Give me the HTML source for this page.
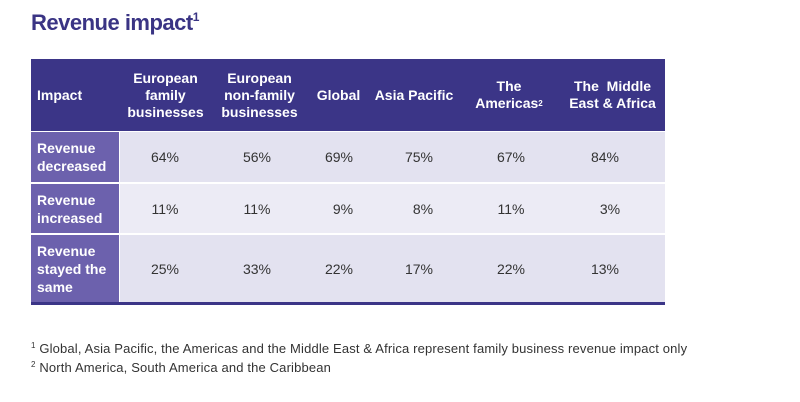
<!DOCTYPE html>
<html><head><meta charset="utf-8"><style>
*{margin:0;padding:0;box-sizing:border-box}
body{width:800px;height:402px;background:#fff;position:relative;overflow:hidden;font-family:"Liberation Sans",sans-serif}
.t{position:absolute;left:31px;top:10px;font-size:22px;font-weight:bold;color:#3a3484;letter-spacing:-0.5px}
.t sup{font-size:12px;vertical-align:top;position:relative;top:0px}
.c{position:absolute;display:flex;align-items:center;justify-content:center;text-align:center}
.h{background:#3b3587;color:#fff;font-weight:bold;font-size:14px;line-height:17px}
.r{background:#6c61ad;color:#fff;font-weight:bold;font-size:14px;line-height:18px;justify-content:flex-start;text-align:left;padding-left:6px}
.d{color:#333;font-size:14px}
.a{background:#e3e2f0}.b{background:#ecebf5}
.fn{position:absolute;left:31px;font-size:13px;color:#333;letter-spacing:0.15px}
.fn sup{font-size:8px;vertical-align:top}
</style></head><body>
<div class="t">Revenue impact<sup>1</sup></div>
<div class="c h" style="left:31px;top:59px;width:634px;height:72px"></div>
<div class="c h" style="left:31px;top:59px;width:88px;height:72px;justify-content:flex-start;padding-left:6px">Impact</div>
<div class="c h" style="left:119px;top:59px;width:93px;height:72px">European<br>family<br>businesses</div>
<div class="c h" style="left:212px;top:59px;width:95px;height:72px">European<br>non-family<br>businesses</div>
<div class="c h" style="left:307px;top:59px;width:63px;height:72px">Global</div>
<div class="c h" style="left:370px;top:59px;width:88px;height:72px">Asia Pacific</div>
<div class="c h" style="left:458px;top:59px;width:102px;height:72px"><span>The<br>Americas<sup style="font-size:8px;vertical-align:top">2</sup></span></div>
<div class="c h" style="left:560px;top:59px;width:105px;height:72px"><span>The&nbsp; Middle<br>East &amp; Africa</span></div>

<div class="c r" style="left:31px;top:132px;width:88px;height:50px">Revenue<br>decreased</div>
<div class="c d a" style="left:120px;top:132px;width:545px;height:50px"></div>
<div class="c r" style="left:31px;top:184px;width:88px;height:49px">Revenue<br>increased</div>
<div class="c d b" style="left:120px;top:184px;width:545px;height:49px"></div>
<div class="c r" style="left:31px;top:235px;width:88px;height:68px">Revenue<br>stayed the<br>same</div>
<div class="c d a" style="left:120px;top:235px;width:545px;height:68px"></div>
<div style="position:absolute;left:31px;top:302px;width:634px;height:3px;background:#3b3587"></div>

<div class="c d" style="left:135px;top:132px;width:60px;height:50px">64%</div>
<div class="c d" style="left:227px;top:132px;width:60px;height:50px">56%</div>
<div class="c d" style="left:309px;top:132px;width:60px;height:50px">69%</div>
<div class="c d" style="left:389px;top:132px;width:60px;height:50px">75%</div>
<div class="c d" style="left:481px;top:132px;width:60px;height:50px">67%</div>
<div class="c d" style="left:575px;top:132px;width:60px;height:50px">84%</div>

<div class="c d" style="left:135px;top:184px;width:60px;height:49px">11%</div>
<div class="c d" style="left:227px;top:184px;width:60px;height:49px">11%</div>
<div class="c d" style="left:313px;top:184px;width:60px;height:49px">9%</div>
<div class="c d" style="left:393px;top:184px;width:60px;height:49px">8%</div>
<div class="c d" style="left:481px;top:184px;width:60px;height:49px">11%</div>
<div class="c d" style="left:580px;top:184px;width:60px;height:49px">3%</div>

<div class="c d" style="left:135px;top:235px;width:60px;height:68px">25%</div>
<div class="c d" style="left:227px;top:235px;width:60px;height:68px">33%</div>
<div class="c d" style="left:309px;top:235px;width:60px;height:68px">22%</div>
<div class="c d" style="left:389px;top:235px;width:60px;height:68px">17%</div>
<div class="c d" style="left:481px;top:235px;width:60px;height:68px">22%</div>
<div class="c d" style="left:575px;top:235px;width:60px;height:68px">13%</div>

<div class="fn" style="top:341px"><sup>1</sup> Global, Asia Pacific, the Americas and the Middle East &amp; Africa represent family business revenue impact only</div>
<div class="fn" style="top:360px"><sup>2</sup> North America, South America and the Caribbean</div>
</body></html>
